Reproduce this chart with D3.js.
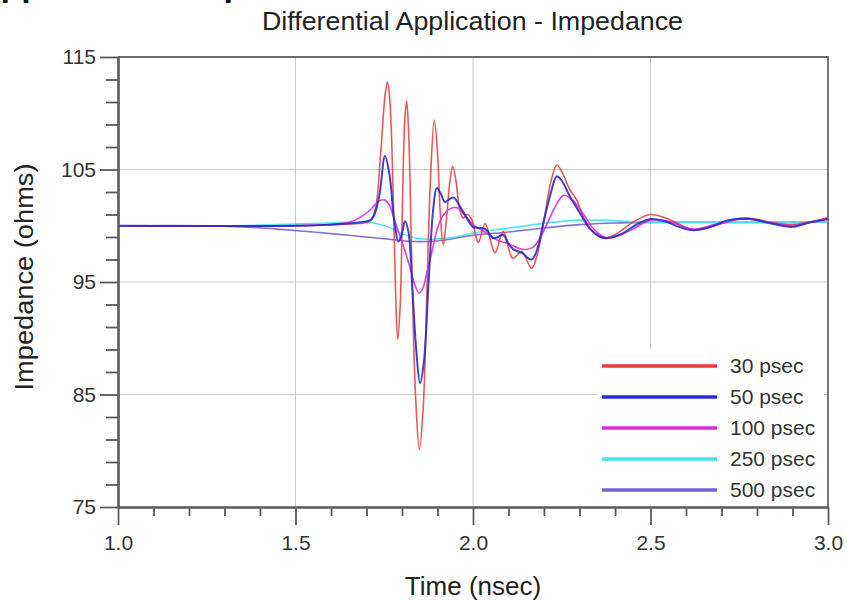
<!DOCTYPE html>
<html>
<head>
<meta charset="utf-8">
<script src="https://cdn.jsdelivr.net/npm/d3@7/dist/d3.min.js"></script>
<style>
  html, body { margin: 0; padding: 0; background: #fff; }
  svg { display: block; }
  text { font-family: "Liberation Sans", Arial, Helvetica, sans-serif; }
</style>
</head>
<body>
<svg id="chart" width="847" height="605"></svg>
<script>
// ---------------- data ----------------
const chartTitle = "Differential Application - Impedance";
const xLabel = "Time (nsec)";
const yLabel = "Impedance (ohms)";
const xMajorTicks = [1.0, 1.5, 2.0, 2.5, 3.0];
const yMajorTicks = [75, 85, 95, 105, 115];
const seriesNames = ["30 psec", "50 psec", "100 psec", "250 psec", "500 psec"];
const seriesColors = ["#e83a3a", "#2a2acc", "#e028e0", "#3ee6e6", "#7362d4"];

const series30 = [[1.0,100],[1.5,100],[1.6,100.1],[1.68,100.2],[1.71,100.4],[1.725,101.5],[1.74,106.5],[1.752,111.5],[1.759,112.8],[1.766,111],[1.775,103],[1.782,94],[1.788,89.9],[1.795,93],[1.802,103],[1.808,109.5],[1.813,111.1],[1.819,108],[1.828,96],[1.838,85],[1.849,80.1],[1.86,84],[1.87,94],[1.88,104],[1.891,109.4],[1.9,106.5],[1.908,101],[1.916,98.3],[1.925,100.5],[1.935,104],[1.943,105.3],[1.952,104],[1.962,101.5],[1.972,100.7],[1.985,101.0],[1.997,100.5],[2.015,98.5],[2.034,100.2],[2.062,97.6],[2.085,99.5],[2.112,97.1],[2.137,97.7],[2.165,96.2],[2.18,97.3],[2.2,100.5],[2.22,104.0],[2.236,105.4],[2.25,104.8],[2.273,103.2],[2.292,102.3],[2.311,100.8],[2.34,99.4],[2.367,98.9],[2.4,99.2],[2.45,100.3],[2.5,101.0],[2.55,100.6],[2.62,99.65],[2.69,100.1],[2.766,100.7],[2.84,100.3],[2.9,100.1],[2.95,100.35],[3.0,100.7]];

const series50 = [[1.0,100],[1.5,100],[1.6,100.1],[1.68,100.3],[1.715,100.6],[1.735,102.5],[1.752,106.2],[1.765,104.5],[1.778,100.5],[1.79,98.6],[1.8,99.3],[1.808,100.4],[1.818,99.5],[1.83,94],[1.84,89],[1.851,86.0],[1.862,88],[1.875,95],[1.888,101.5],[1.898,103.35],[1.91,102.8],[1.921,102.1],[1.935,102.4],[1.946,102.5],[1.96,101.9],[1.975,101.1],[2.0,99.9],[2.02,99.8],[2.035,99.7],[2.057,98.9],[2.07,99.0],[2.085,99.2],[2.1,98.4],[2.114,97.9],[2.137,97.6],[2.165,97.0],[2.18,97.8],[2.2,100.5],[2.22,103.0],[2.236,104.4],[2.25,104.0],[2.273,102.6],[2.3,101.2],[2.33,99.7],[2.36,99.0],[2.38,98.9],[2.42,99.3],[2.46,100.1],[2.5,100.6],[2.54,100.4],[2.58,99.9],[2.62,99.6],[2.67,99.9],[2.72,100.5],[2.78,100.6],[2.84,100.2],[2.9,99.9],[2.95,100.3],[3.0,100.6]];

const series100 = [[1.0,100],[1.5,100],[1.6,100.1],[1.65,100.3],[1.68,100.7],[1.71,101.4],[1.735,102.2],[1.75,102.3],[1.765,101.8],[1.78,100.4],[1.795,99.0],[1.81,97.6],[1.825,96.0],[1.838,94.6],[1.848,94.0],[1.858,94.4],[1.87,95.8],[1.885,97.8],[1.9,99.8],[1.915,100.9],[1.935,101.5],[1.955,101.6],[1.975,101.0],[2.0,100.1],[2.03,99.5],[2.07,98.7],[2.1,98.4],[2.14,97.9],[2.17,98.1],[2.2,99.6],[2.23,101.6],[2.255,102.7],[2.28,102.3],[2.31,101.1],[2.34,99.7],[2.37,99.0],[2.4,99.0],[2.45,99.7],[2.5,100.5],[2.55,100.4],[2.62,99.7],[2.68,100.1],[2.76,100.6],[2.82,100.4],[2.9,100.0],[2.95,100.3],[3.0,100.6]];

const series250 = [[1.0,100],[1.3,100],[1.45,100.1],[1.55,100.2],[1.65,100.3],[1.72,100.25],[1.76,99.9],[1.8,99.3],[1.84,98.9],[1.88,98.8],[1.95,99.0],[2.0,99.35],[2.08,99.7],[2.15,100.0],[2.22,100.3],[2.3,100.5],[2.36,100.5],[2.45,100.35],[2.6,100.3],[2.8,100.3],[3.0,100.35]];

const series500 = [[1.0,100],[1.25,100],[1.35,99.9],[1.45,99.7],[1.55,99.45],[1.65,99.15],[1.75,98.85],[1.83,98.6],[1.9,98.65],[2.0,99.15],[2.1,99.45],[2.2,99.8],[2.3,100.1],[2.4,100.25],[2.5,100.3],[2.7,100.3],[2.9,100.3],[3.0,100.35]];

const allSeries = [series30, series50, series100, series250, series500];
const seriesWidths = [1.6, 2.0, 1.6, 1.6, 1.6];

// ---------------- layout ----------------
const svg = d3.select("#chart");
const L = 118, R = 828, T = 57, B = 507;

const x = d3.scaleLinear().domain([1.0, 3.0]).range([L, R]);
const y = d3.scaleLinear().domain([75, 115]).range([B, T]);

const xMinor = d3.range(10, 31).map(v => v / 10).filter(v => !xMajorTicks.some(m => Math.abs(m - v) < 1e-9));
const yMinor = d3.range(75, 116, 2).filter(v => !yMajorTicks.includes(v));

// heading of the page above, cropped at the top edge (only descenders visible)
svg.append("text")
  .attr("x", -24).attr("y", -4)
  .attr("font-size", 34).attr("font-weight", "bold").attr("fill", "#111")
  .text("Application Help");

// grid
const grid = svg.append("g");
grid.selectAll("line.gx").data(xMajorTicks.slice(1, -1)).join("line")
  .attr("x1", d => x(d)).attr("x2", d => x(d)).attr("y1", T).attr("y2", B)
  .attr("stroke", "#c9c9c9").attr("stroke-width", 1);
grid.selectAll("line.gy").data(yMajorTicks.slice(1, -1)).join("line")
  .attr("x1", L).attr("x2", R).attr("y1", d => y(d)).attr("y2", d => y(d))
  .attr("stroke", "#c9c9c9").attr("stroke-width", 1);

// frame (top/right)
svg.append("path")
  .attr("d", `M${L},${T}H${R}V${B}`)
  .attr("fill", "none").attr("stroke", "#6a6a6a").attr("stroke-width", 1.8);

// clip
svg.append("clipPath").attr("id", "plotclip").append("rect")
  .attr("x", L).attr("y", T - 2).attr("width", R - L).attr("height", B - T + 4);

// lines
const line = d3.line().x(d => x(d[0])).y(d => y(d[1])).curve(d3.curveCatmullRom.alpha(0.5));
const lines = svg.append("g").attr("clip-path", "url(#plotclip)");
const order = [4, 3, 0, 2, 1];
order.forEach(i => {
  lines.append("path")
    .datum(allSeries[i])
    .attr("d", line)
    .attr("fill", "none")
    .attr("stroke", seriesColors[i])
    .attr("stroke-width", seriesWidths[i])
    .attr("stroke-opacity", i === 0 ? 0.85 : 0.9)
    .attr("stroke-linejoin", "round");
});

// legend
const lg = svg.append("g");
lg.append("rect").attr("x", 598).attr("y", 349).attr("width", 226).attr("height", 156).attr("fill", "#fff");
const rowY = d3.scaleLinear().domain([0, 4]).range([366, 490]);
seriesNames.forEach((n, i) => {
  lg.append("line")
    .attr("x1", 602).attr("x2", 717).attr("y1", rowY(i)).attr("y2", rowY(i))
    .attr("stroke", seriesColors[i]).attr("stroke-width", 3.5);
  lg.append("text")
    .attr("x", 730).attr("y", rowY(i) + 7)
    .attr("font-size", 21).attr("fill", "#333")
    .text(n);
});

// axes
const axisColor = "#5a5a5a";
function styleAxis(g) {
  g.selectAll("path.domain").attr("stroke", axisColor).attr("stroke-width", 2.6);
  g.selectAll(".tick line").attr("stroke", axisColor).attr("stroke-width", 1.8);
  g.selectAll(".tick text").attr("fill", "#333").attr("font-family", "Liberation Sans, Arial, sans-serif");
}

const yAxis = svg.append("g").attr("transform", `translate(${L},0)`)
  .call(d3.axisLeft(y).tickValues(yMajorTicks).tickSize(18).tickSizeOuter(0).tickPadding(4).tickFormat(d3.format("d")));
yAxis.selectAll(".tick text").attr("font-size", 21);
styleAxis(yAxis);
const yAxisMinor = svg.append("g").attr("transform", `translate(${L},0)`)
  .call(d3.axisLeft(y).tickValues(yMinor).tickSize(12).tickFormat(""));
yAxisMinor.select("path.domain").remove();
styleAxis(yAxisMinor);

const xAxis = svg.append("g").attr("transform", `translate(0,${B})`)
  .call(d3.axisBottom(x).tickValues(xMajorTicks).tickSize(18).tickSizeOuter(0).tickPadding(10).tickFormat(d3.format(".1f")));
xAxis.selectAll(".tick text").attr("font-size", 21);
styleAxis(xAxis);
const xAxisMinor = svg.append("g").attr("transform", `translate(0,${B})`)
  .call(d3.axisBottom(x).tickValues(xMinor).tickSize(9).tickFormat(""));
xAxisMinor.select("path.domain").remove();
styleAxis(xAxisMinor);

// titles
svg.append("text").attr("x", 472.5).attr("y", 30).attr("text-anchor", "middle")
  .attr("font-size", 25).attr("fill", "#222")
  .attr("textLength", 421).attr("lengthAdjust", "spacingAndGlyphs").text(chartTitle);
svg.append("text").attr("x", 473).attr("y", 595).attr("text-anchor", "middle")
  .attr("font-size", 26).attr("fill", "#222").text(xLabel);
svg.append("text").attr("transform", "translate(33,277) rotate(-90)").attr("text-anchor", "middle")
  .attr("font-size", 26).attr("fill", "#222")
  .attr("textLength", 227).attr("lengthAdjust", "spacingAndGlyphs").text(yLabel);
</script>
</body>
</html>
